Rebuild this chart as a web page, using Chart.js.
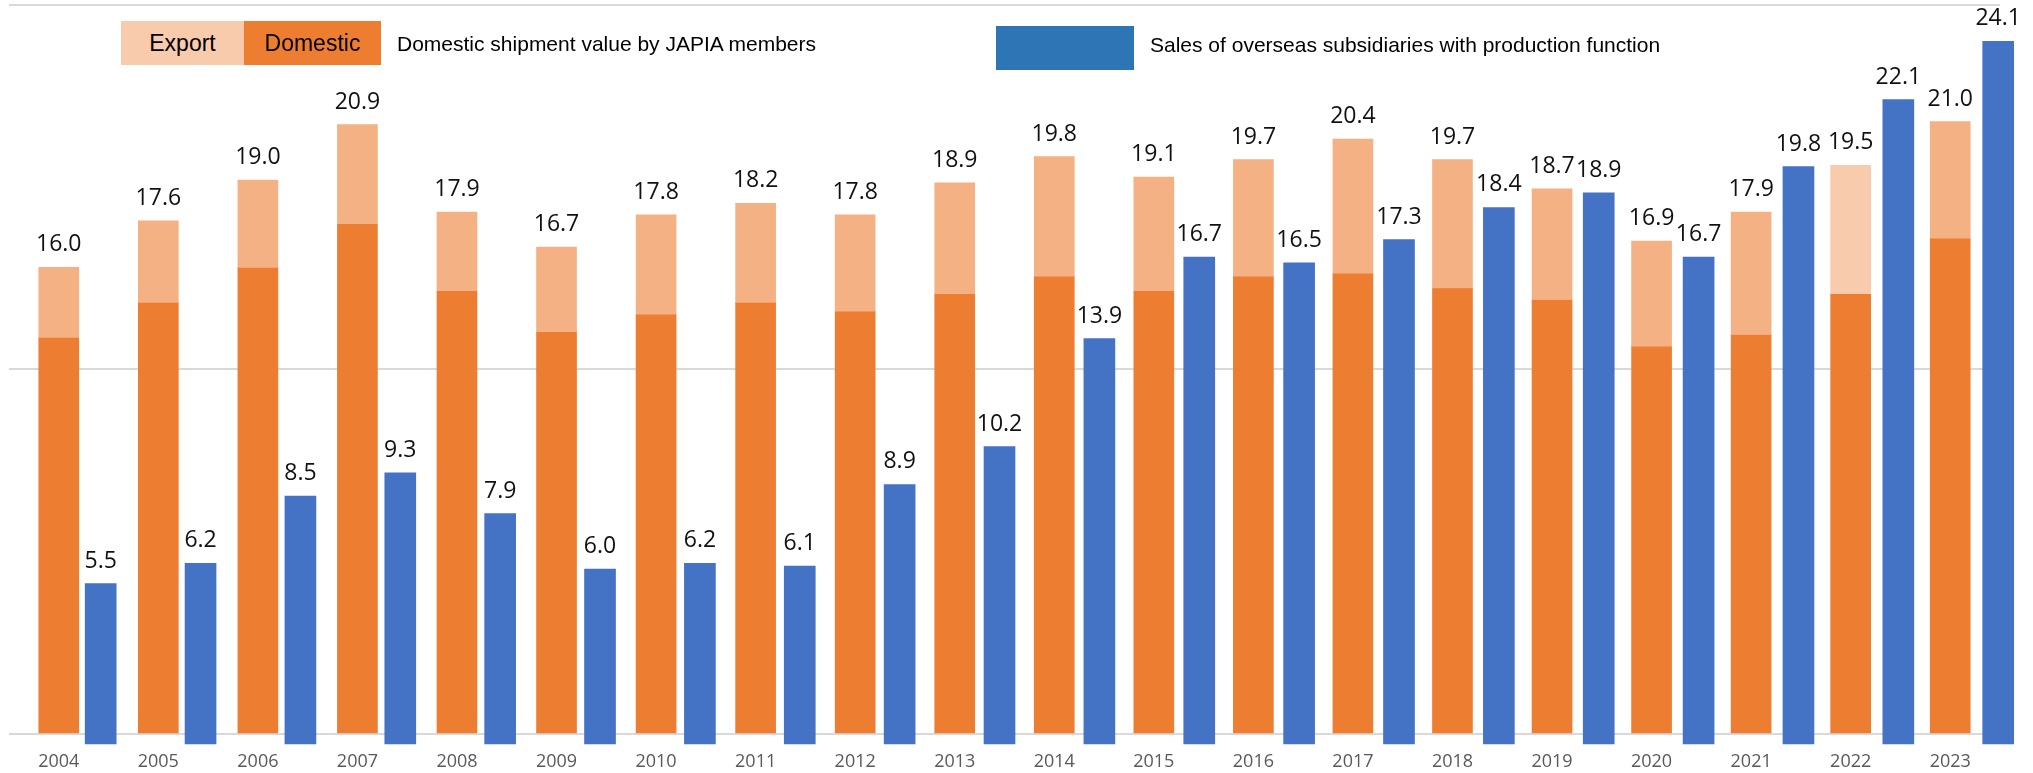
<!DOCTYPE html>
<html>
<head>
<meta charset="utf-8">
<title>JAPIA domestic shipments and overseas subsidiary sales</title>
<script src="https://cdn.jsdelivr.net/npm/chart.js@4.4.1/dist/chart.umd.min.js"></script>
<style>
  html, body { margin: 0; padding: 0; background: #ffffff; }
  #wrap { position: relative; width: 2033px; height: 773px; overflow: hidden; }
  #chart { position: absolute; left: 0; top: 0; }
  .key, .caption {
    position: absolute;
    display: flex;
    align-items: center;
    font-family: "Liberation Sans", Arial, sans-serif;
    font-size: 21px;
    color: #000000;
    white-space: nowrap;
  }
  .key { justify-content: center; font-size: 23px; }
</style>
</head>
<body>
<div id="wrap">
  <canvas id="chart" width="2033" height="773"></canvas>
  <div class="key" style="left:121px; top:21px; width:123px; height:44px; background:#F8CBAD;">Export</div>
  <div class="key" style="left:244px; top:21px; width:137px; height:44px; background:#ED7D31;">Domestic</div>
  <div class="caption" style="left:397px; top:22px; height:44px;">Domestic shipment value by JAPIA members</div>
  <div class="key" style="left:996px; top:26px; width:138px; height:44px; background:#2E75B6;"></div>
  <div class="caption" style="left:1150px; top:23px; height:44px;">Sales of overseas subsidiaries with production function</div>
</div>
<script>
// Fiscal years shown on the category axis
const years = ['2004', '2005', '2006', '2007', '2008', '2009', '2010', '2011', '2012', '2013',
               '2014', '2015', '2016', '2017', '2018', '2019', '2020', '2021', '2022', '2023'];

// Domestic shipment value by JAPIA members: total (domestic + export), trillion yen
const shipmentTotal = [16.0, 17.6, 19.0, 20.9, 17.9, 16.7, 17.8, 18.2, 17.8, 18.9,
                       19.8, 19.1, 19.7, 20.4, 19.7, 18.7, 16.9, 17.9, 19.5, 21.0];

// Domestic portion of the shipment value, trillion yen
const shipmentDomestic = [13.6, 14.8, 16.0, 17.5, 15.2, 13.8, 14.4, 14.8, 14.5, 15.1,
                          15.7, 15.2, 15.7, 15.8, 15.3, 14.9, 13.3, 13.7, 15.1, 17.0];

// Sales of overseas subsidiaries with production function, trillion yen
const overseasSales = [5.5, 6.2, 8.5, 9.3, 7.9, 6.0, 6.2, 6.1, 8.9, 10.2,
                       13.9, 16.7, 16.5, 17.3, 18.4, 18.9, 16.7, 19.8, 22.1, 24.1];

// Horizontal guide lines
const gridValues = [0, 12.5, 25];

// Year whose export segment is shown in the lighter tint
const preliminaryYear = '2022';

const COLORS = {
  domestic: '#ED7D31',
  export: '#F4B183',
  exportLight: '#F8CBAD',
  overseas: '#4472C4',
  grid: '#D9D9D9',
  tick: '#595959',
  label: '#111111'
};

// Axis geometry: the overseas series sits on its own axes, nudged right and
// with its zero a little below the shipment baseline.
const VALUE_MAX = 25;
const OVERSEAS_DROP = 0.343;

// Value labels above each shipment stack and each overseas bar
const valueLabels = {
  id: 'valueLabels',
  afterDatasetsDraw(chart) {
    const ctx = chart.ctx;
    ctx.save();
    ctx.font = '23px "Open Sans", "Noto Sans", sans-serif';
    ctx.fillStyle = COLORS.label;
    ctx.textAlign = 'center';
    ctx.textBaseline = 'alphabetic';
    const groups = [[1, shipmentTotal], [2, overseasSales]];
    groups.forEach(([dsIndex, values]) => {
      chart.getDatasetMeta(dsIndex).data.forEach((bar, i) => {
        const top = Math.min(bar.y, bar.base);
        ctx.fillText(values[i].toFixed(1), bar.x, top - 16);
      });
    });
    ctx.restore();
  }
};

const ctx = document.getElementById('chart').getContext('2d');
new Chart(ctx, {
  type: 'bar',
  data: {
    datasets: [
      {
        label: 'Domestic',
        data: years.map((_, i) => ({ x: i, y: shipmentDomestic[i] })),
        backgroundColor: COLORS.domestic,
        xAxisID: 'x',
        yAxisID: 'y',
        grouped: false,
        barThickness: 40,
        maxBarThickness: 40,
        order: 2
      },
      {
        label: 'Export',
        data: years.map((_, i) => ({ x: i, y: [shipmentDomestic[i], shipmentTotal[i]] })),
        backgroundColor: (c) => years[c.dataIndex] === preliminaryYear ? COLORS.exportLight : COLORS.export,
        xAxisID: 'x',
        yAxisID: 'y',
        grouped: false,
        barThickness: 40,
        maxBarThickness: 40,
        order: 1
      },
      {
        label: 'Overseas',
        data: years.map((_, i) => ({ x: i, y: overseasSales[i] })),
        backgroundColor: COLORS.overseas,
        xAxisID: 'x2',
        yAxisID: 'y2',
        grouped: false,
        barThickness: 31,
        maxBarThickness: 31,
        clip: false,
        order: 0
      }
    ]
  },
  options: {
    responsive: false,
    animation: false,
    events: [],
    layout: { padding: { left: 9, right: 33, top: 5, bottom: -6.6 } },
    plugins: {
      legend: { display: false },
      tooltip: { enabled: false }
    },
    scales: {
      x: {
        type: 'linear',
        position: 'bottom',
        offset: false,
        min: -0.5,
        max: 19.5,
        grid: { display: false, drawTicks: false, offset: false },
        border: { display: false },
        afterBuildTicks: (axis) => { axis.ticks = years.map((_, i) => ({ value: i })); },
        ticks: {
          autoSkip: false,
          maxRotation: 0,
          padding: 7,
          color: COLORS.tick,
          font: { family: '"Open Sans", "Noto Sans", sans-serif', size: 18 },
          callback: (v) => years[v]
        }
      },
      x2: {
        type: 'linear',
        display: false,
        offset: false,
        grid: { offset: false },
        min: -0.918,
        max: 19.018
      },
      y: {
        type: 'linear',
        position: 'left',
        min: -OVERSEAS_DROP,
        max: VALUE_MAX,
        afterBuildTicks: (axis) => { axis.ticks = gridValues.map((v) => ({ value: v })); },
        grid: { color: COLORS.grid, lineWidth: 2, drawTicks: false },
        border: { display: false },
        ticks: { display: false }
      },
      y2: {
        type: 'linear',
        display: false,
        min: 0,
        max: VALUE_MAX + OVERSEAS_DROP
      }
    }
  },
  plugins: [valueLabels]
});
</script>
</body>
</html>
